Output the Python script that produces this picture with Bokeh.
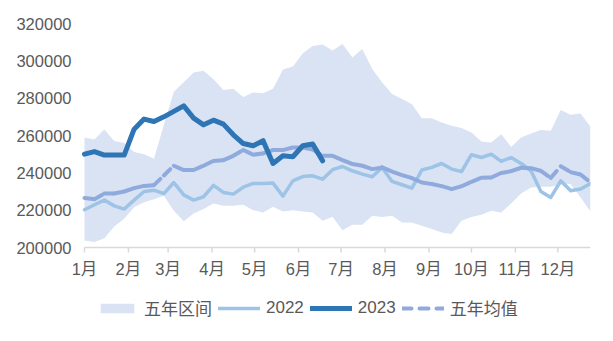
import math
from bokeh.plotting import figure
from bokeh.models import (Range1d, FixedTicker, NumeralTickFormatter, Legend, LegendItem,
                          ColumnDataSource)
from bokeh.core.properties import value
from bokeh.embed import file_html
from bokeh.resources import INLINE

# ---------------- data ----------------
weeks = list(range(1, 53))
month_labels = ["1月", "2月", "3月", "4月", "5月", "6月", "7月", "8月", "9月", "10月", "11月", "12月"]
month_start_day = [0, 31, 59, 90, 120, 151, 181, 212, 243, 273, 304, 334]
y_ticks = [200000, 220000, 240000, 260000, 280000, 300000, 320000]

range_upper = [258900, 257800, 263200, 257000, 256000, 251200, 250000, 247500, 265700, 283500,
               288500, 293700, 294700, 290200, 284400, 285100, 280600, 283000, 282700, 285100,
               295300, 297000, 304000, 308000, 308800, 305500, 309000, 301800, 306300, 295600,
               288400, 282200, 279500, 276800, 269300, 269300, 267000, 265200, 264000, 261600,
               256800, 256300, 260700, 253900, 258900, 261100, 262900, 262500, 273600, 271100,
               271800, 264700]
range_lower = [203800, 203000, 205000, 211200, 215400, 221600, 224300, 225900, 227700, 219700,
               214100, 218200, 220600, 223600, 222300, 222300, 222900, 220000, 218800, 221800,
               219300, 220000, 219300, 218800, 214300, 216500, 209300, 212200, 212200, 217000,
               216400, 217000, 213400, 213400, 211600, 209900, 208000, 207200, 214300, 216400,
               217500, 219700, 218800, 223600, 228900, 232100, 232500, 232500, 233600, 234000,
               226800, 219300]
y2022 = [220200, 222900, 225400, 222300, 220600, 225400, 230000, 230700, 228900, 234800,
         228200, 225400, 227200, 233300, 229500, 228600, 232300, 234300, 234300, 234500,
         227500, 235700, 238000, 238400, 236600, 241700, 243400, 241100, 239300, 237900,
         242900, 235400, 233600, 231800, 241500, 242900, 245000, 242000, 240700, 249700,
         248200, 250000, 246100, 248200, 245000, 241100, 230000, 226800, 235700, 230400,
         231300, 234300]
y2023 = [250000, 251400, 249500, 249500, 249500, 263400, 268800, 267500, 270000, 272900,
         275900, 269300, 265700, 268200, 266100, 260400, 255700, 254500, 257200, 245000,
         249100, 248600, 254500, 255400, 246400]
avg5 = [226500, 225900, 228900, 228900, 230000, 231800, 233000, 233400, 238600, 243800,
        241500, 241500, 243800, 246400, 246800, 249100, 252200, 249700, 250400, 252200,
        252200, 253600, 253600, 252500, 249100, 249100, 246800, 244700, 243800, 242000,
        242900, 240700, 238800, 237200, 234800, 234000, 232900, 231300, 232800, 235200,
        237400, 237500, 239900, 240900, 242700, 242500, 241100, 237300, 243500, 240400,
        239100, 234800]

# ---------------- layout ----------------
W, H = 613, 341
TOP, AXIS_Y = 23, 247            # pixel rows of the 320000 and 200000 levels
FRAME_L, DATA_L, DATA_R = 71, 84, 590   # frame left edge, first and last week columns
y_lo, y_hi = y_ticks[0], y_ticks[-1]
per_px_y = (y_hi - y_lo) / (AXIS_Y - TOP)
y_start = y_lo - (H - AXIS_Y) * per_px_y           # frame reaches the bottom (legend room)
per_px_x = (weeks[-1] - weeks[0]) / (DATA_R - DATA_L)
x_start = weeks[0] - (DATA_L - FRAME_L) * per_px_x  # a little room left of week 1 for "1月"

FONT = "'Liberation Sans', 'Noto Sans CJK SC'"
TXT = "#595959"
AX = "#D9D9D9"

p = figure(width=W, height=H, output_backend="svg", toolbar_location=None,
           x_axis_location=None,
           x_range=Range1d(x_start, weeks[-1]), y_range=Range1d(y_start, y_hi),
           min_border_left=FRAME_L, min_border_right=W - DATA_R, min_border_top=TOP,
           min_border_bottom=0)
p.outline_line_color = None
p.grid.visible = False
p.background_fill_color = "white"
p.border_fill_color = "white"

band = p.varea(x=weeks, y1=range_lower, y2=range_upper, fill_color="#DAE3F3")
l2022 = p.line(weeks, y2022, line_color="#9DC3E6", line_width=3.5, line_join="round", line_cap="round")

seg_src = ColumnDataSource(dict(
    xs=[[weeks[i], weeks[i + 1]] for i in range(len(weeks) - 1)],
    ys=[[avg5[i], avg5[i + 1]] for i in range(len(weeks) - 1)],
))
lavg = p.multi_line(xs="xs", ys="ys", source=seg_src, line_color="#8FAADC", line_width=4,
                    line_dash="9 8", line_cap="round", line_join="round")
l2023 = p.line(weeks[:len(y2023)], y2023, line_color="#2E75B6", line_width=5,
               line_join="round", line_cap="round")

# category (month) axis drawn at the 200000 level
tick_pos = [weeks[0] + d / 7 for d in month_start_day]
p.segment(x0=[weeks[0]], y0=[y_lo], x1=[weeks[-1]], y1=[y_lo], line_color=AX, line_width=1.5)
p.ray(x=tick_pos, y=[y_lo] * len(tick_pos), length=5, length_units="screen",
      angle=-math.pi / 2, line_color=AX, line_width=1.5)
p.text(x=tick_pos, y=[y_lo] * len(tick_pos), text=month_labels, text_align="center",
       text_baseline="middle", y_offset=21, text_font=value(FONT), text_font_size="16.5px",
       text_color=TXT)

# y axis
ya = p.yaxis[0]
ya.ticker = FixedTicker(ticks=y_ticks)
ya.formatter = NumeralTickFormatter(format="0")
ya.axis_line_color = None
ya.major_tick_line_color = None
ya.minor_tick_line_color = None
ya.major_tick_out = 0
ya.major_tick_in = 0
ya.major_label_standoff = 0
ya.major_label_text_font = FONT
ya.major_label_text_font_size = "16.5px"
ya.major_label_text_color = TXT

legend = Legend(items=[
    LegendItem(label="五年区间", renderers=[band]),
    LegendItem(label="2022", renderers=[l2022]),
    LegendItem(label="2023", renderers=[l2023]),
    LegendItem(label="五年均值", renderers=[lavg]),
], orientation="horizontal", location=(96 - FRAME_L, 21), glyph_width=42, glyph_height=12,
    label_standoff=6, spacing=6, padding=0, margin=0, border_line_color=None,
    background_fill_alpha=0, label_text_font=FONT, label_text_font_size="17px",
    label_text_color=TXT)
p.add_layout(legend)

open("out.html", "w").write(file_html(p, INLINE))
